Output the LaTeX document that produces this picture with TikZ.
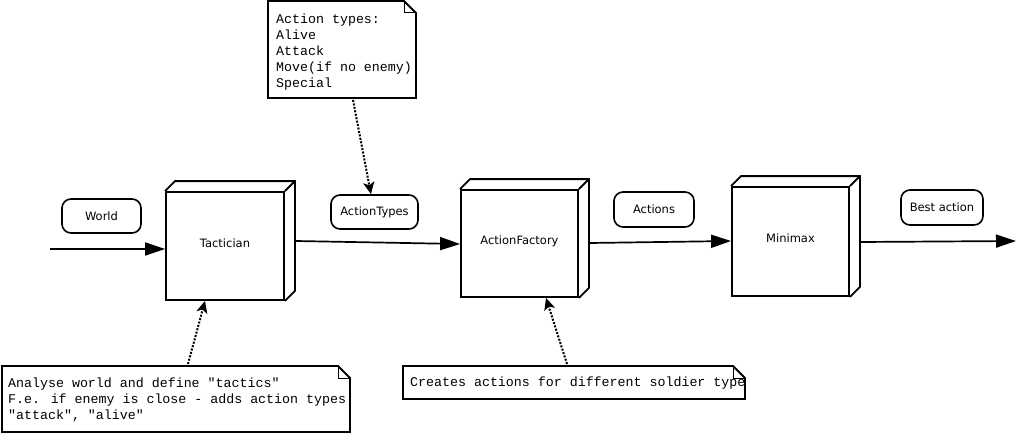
\documentclass[tikz,border=0pt]{standalone}
\usepackage{fontspec}
\setmainfont{DejaVu Sans}
\newfontfamily\notefont{Liberation Mono}
\usetikzlibrary{arrows.meta,positioning}
\tikzset{
  cube/.style={draw,line width=1.8pt,rectangle,inner sep=0pt},
  cubelabel/.style={font=\fontsize{11.5}{13}\selectfont},
  lbl/.style={draw,line width=1.6pt,rounded corners=9pt,inner sep=0pt,font=\fontsize{11.5}{13}\selectfont},
  flow/.style={line width=1.7pt,-{Triangle[length=20pt,width=13pt]}},
  notelink/.style={line width=2pt,dash pattern=on 2pt off 1.5pt,-{Stealth[length=12pt,width=11pt,inset=3pt]}},
  noteline/.style={line width=1.8pt,line join=miter},
  notetext/.style={anchor=north west,inner sep=0pt,align=left,font=\notefont\fontsize{13.3}{16}\selectfont}
}
\newcommand{\cubedepth}[1]{%
  \draw[line width=1.8pt,line join=miter] (#1.north west) -- ([shift={(10,-10)}]#1.north west) -- ([shift={(10,-10)}]#1.north east) -- ([shift={(10,-10)}]#1.south east) -- (#1.south east);
  \draw[line width=1.8pt] (#1.north east) -- ([shift={(10,-10)}]#1.north east);}
\newcommand{\notebox}[5]{% name, x1,y1,x2,y2
  \draw[noteline] (#2,#3) -- (#4-12,#3) -- (#4,#3+12) -- (#4,#5) -- (#2,#5) -- cycle;
  \draw[line width=1pt] (#4-12,#3) -- (#4-12,#3+12) -- (#4,#3+12);
  \coordinate (#1) at (#2,#3);}
\begin{document}
\begin{tikzpicture}[x=1pt,y=-1pt]
\useasboundingbox (0,0) rectangle (1016,433);
% cubes
\node[cube,minimum width=118pt,minimum height=108pt] (tac) at (225,246) {};
\node[cubelabel] (tacl) at (225,243) {Tactician};
\cubedepth{tac}
\node[cube,minimum width=117pt,minimum height=107pt] (fac) at (519.5,243.5) {};
\node[cubelabel] (facl) at (519.5,241) {ActionFactory};
\cubedepth{fac}
\node[cube,minimum width=117pt,minimum height=109pt] (mm) at (790.5,241.5) {};
\node[cubelabel] (mml) at (790.5,238) {Minimax};
\cubedepth{mm}
% labels
\node[lbl,minimum width=79pt,minimum height=34pt] (world) at (101.5,216) {World};
\node[lbl,minimum width=87pt,minimum height=34pt] (atypes) at (374.5,212) {ActionTypes};
\node[lbl,minimum width=80pt,minimum height=35pt] (acts) at (654,209.5) {Actions};
\node[lbl,minimum width=82pt,minimum height=35pt] (best) at (942,207.5) {Best action};
% flow
\coordinate (in) at (50,249);
\coordinate (out) at (1016,241);
\coordinate (s1) at (296,241);
\coordinate (s2) at (590,243);
\coordinate (s3) at (860,242);
\draw[flow] (in) -- (tac.west |- in);
\draw[flow] (s1) -- (fac.west |- 0,244);
\draw[flow] (s2) -- (mm.west |- 0,241);
\draw[flow] (s3) -- (out);
% notes
\notebox{n1}{268}{1}{416}{98}
\node[notetext] (n1t) at (276,14) {Action types:\\Alive\\Attack\\Move(if no enemy)\\Special};
\notebox{n2}{2}{366}{350}{432}
\node[notetext] (n2t) at (8,378) {Analyse world and define "tactics"\\F.e. if enemy is close - adds action types\\"attack", "alive"};
\notebox{n3}{403}{366}{745}{399}
\begin{scope}
\clip (403,366) rectangle (744,399);
\node[notetext] (n3t) at (410,377) {Creates actions for different soldier types};
\end{scope}
% note links
\coordinate (l1) at (353,100);
\coordinate (l2) at (188,364);
\coordinate (l3) at (567,364);
\draw[notelink] (l1) -- (atypes.north -| 371,0);
\draw[notelink] (l2) -- (tac.south -| 205,0);
\draw[notelink] (l3) -- (fac.south -| 546,0);
\end{tikzpicture}
\end{document}
